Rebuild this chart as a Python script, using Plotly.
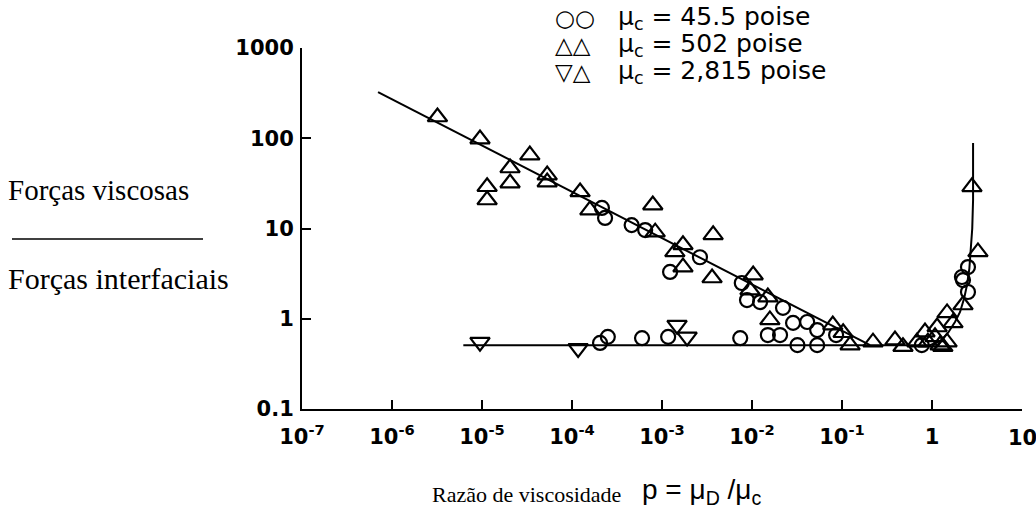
import plotly.graph_objects as go

# ---- data ----
circ_x = [2.15e-4, 2.33e-4, 4.6e-4, 6.5e-4, 1.23e-3, 2.64e-3, 7.7e-3, 8.8e-3, 1.23e-2, 2.21e-2,
          1.5e-2, 2.05e-2, 2.86e-2, 4.1e-2, 5.3e-2, 3.2e-2, 5.3e-2, 7.4e-3, 0.086, 0.77,
          2.51, 2.21, 2.51, 2.15, 2.05e-4, 2.5e-4, 6.0e-4, 1.17e-3]
circ_y = [16.9, 13.1, 10.9, 9.6, 3.3, 4.8, 2.49, 1.61, 1.53, 1.32,
          0.66, 0.66, 0.90, 0.92, 0.75, 0.51, 0.51, 0.61, 0.66, 0.51,
          1.98, 2.68, 3.74, 2.9, 0.54, 0.63, 0.61, 0.63]

tri_x = [3.2e-6, 9.5e-6, 1.14e-5, 1.14e-5, 2.05e-5, 2.05e-5, 3.4e-5, 5.3e-5, 5.3e-5, 1.23e-4,
         1.58e-4, 7.9e-4, 8.4e-4, 1.39e-3, 1.71e-3, 1.71e-3, 3.6e-3, 3.7e-3, 1.03e-2, 9.5e-3,
         1.5e-2, 1.58e-2, 0.079, 0.103, 0.123, 0.221, 0.388, 0.476, 0.68, 0.90,
         1.23, 1.47, 1.14, 1.47, 2.21, 1.71, 2.78, 3.24, 1.08, 1.32, 0.836]
tri_y = [172, 98, 29, 20.7, 46.8, 31.9, 65, 39, 32.7, 25.4,
         16, 18.2, 9.1, 5.5, 6.6, 3.74, 2.83, 8.5, 3.05, 2.08,
         1.74, 0.97, 0.85, 0.70, 0.51, 0.55, 0.58, 0.49, 0.55, 0.55,
         0.51, 0.55, 0.81, 1.16, 1.42, 0.90, 28.9, 5.5, 0.63, 0.49, 0.71]

dtri_x = [9.5e-6, 1.17e-4, 1.47e-3, 1.9e-3]
dtri_y = [0.55, 0.47, 0.85, 0.63]

fit1_x = [7.0e-7, 0.205]
fit1_y = [325, 0.51]

fit2_x = [6.2e-6, 0.95, 1.25, 1.51, 1.8, 2.05, 2.28, 2.45, 2.6, 2.71, 2.8, 2.86, 2.86]
fit2_y = [0.51, 0.51, 0.57, 0.70, 0.92, 1.19, 1.7, 2.37, 3.6, 5.8, 10, 20.7, 88.5]

x_tickvals = [1e-7, 1e-6, 1e-5, 1e-4, 1e-3, 1e-2, 1e-1, 1, 10]
x_ticktext = ["10<sup>-7</sup>", "10<sup>-6</sup>", "10<sup>-5</sup>", "10<sup>-4</sup>",
              "10<sup>-3</sup>", "10<sup>-2</sup>", "10<sup>-1</sup>", "1", "10"]
y_tickvals = [0.1, 1, 10, 100, 1000]
y_ticktext = ["0.1", "1", "10", "100", "1000"]

legend_syms = ["○○", "△△", "▽△"]
legend_txt = ["μ<sub>c</sub> = 45.5 poise", "μ<sub>c</sub> = 502 poise", "μ<sub>c</sub> = 2,815 poise"]

# ---- figure ----
W, H = 1036, 516
L, R, T, B = 302, 14, 48, 107
pw, ph = W - L - R, H - T - B

def px(xpix):
    return (xpix - L) / pw

def py(ypix):
    return (H - B - ypix) / ph

fig = go.Figure()
fig.add_trace(go.Scatter(x=fit1_x, y=fit1_y, mode="lines",
                         line=dict(color="black", width=2), showlegend=False))
fig.add_trace(go.Scatter(x=fit2_x, y=fit2_y, mode="lines",
                         line=dict(color="black", width=2), showlegend=False))
mk = dict(color="black", size=17, line=dict(color="black", width=2.2))
fig.add_trace(go.Scatter(x=circ_x, y=circ_y, mode="markers",
                         marker=dict(symbol="circle-open", **{**mk, "size": 14}), showlegend=False))
fig.add_trace(go.Scatter(x=tri_x, y=tri_y, mode="markers",
                         marker=dict(symbol="triangle-up-open", **mk), showlegend=False))
fig.add_trace(go.Scatter(x=dtri_x, y=dtri_y, mode="markers",
                         marker=dict(symbol="triangle-down-open", **mk), showlegend=False))

xtickfont = dict(family="DejaVu Sans", size=21, color="black", weight="bold")
ytickfont = dict(family="DejaVu Sans", size=21, color="black", weight="bold")
# the last x label sits on the page edge; plotly would drop it, so it is drawn as an annotation
shown_ticktext = x_ticktext[:-1] + [""]
fig.update_xaxes(type="log", range=[-7, 1], tickvals=x_tickvals, ticktext=shown_ticktext,
                 ticks="inside", ticklen=9, tickwidth=2, tickcolor="black",
                 showline=True, linecolor="black", linewidth=2, showgrid=False,
                 zeroline=False, tickfont=xtickfont, ticklabelstandoff=8)
fig.update_yaxes(type="log", range=[-1, 3], tickvals=y_tickvals, ticktext=y_ticktext,
                 ticks="inside", ticklen=9, tickwidth=2, tickcolor="black",
                 showline=True, linecolor="black", linewidth=2, showgrid=False,
                 zeroline=False, tickfont=ytickfont, ticklabelstandoff=2)

ann = []
ann.append(dict(text=x_ticktext[-1], x=1, xref="x", y=py(438), yref="paper",
                xanchor="center", yanchor="middle", showarrow=False, font=xtickfont))
serif = dict(family="Liberation Serif", size=30, color="black")
ann.append(dict(text="Forças viscosas", x=px(6), y=py(190), xref="paper", yref="paper",
                xanchor="left", yanchor="middle", showarrow=False,
                font=dict(family="Liberation Serif", size=29, color="black")))
ann.append(dict(text="Forças interfaciais", x=px(6), y=py(278), xref="paper", yref="paper",
                xanchor="left", yanchor="middle", showarrow=False, font=serif))
ann.append(dict(text="Razão de viscosidade", x=px(430), y=py(494), xref="paper", yref="paper",
                xanchor="left", yanchor="middle", showarrow=False,
                font=dict(family="Liberation Serif", size=22, color="black")))
ann.append(dict(text="p = μ<sub>D</sub> /μ<sub>c</sub>", x=px(640), y=py(491), xref="paper", yref="paper",
                xanchor="left", yanchor="middle", showarrow=False,
                font=dict(family="Liberation Sans", size=28, color="black")))
for i, (s, t) in enumerate(zip(legend_syms, legend_txt)):
    yy = [18, 45, 72][i]
    ann.append(dict(text=s, x=px(553), y=py(yy), xref="paper", yref="paper",
                    xanchor="left", yanchor="middle", showarrow=False,
                    font=dict(family="DejaVu Sans", size=23, color="black")))
    ann.append(dict(text=t, x=px(616), y=py(yy), xref="paper", yref="paper",
                    xanchor="left", yanchor="middle", showarrow=False,
                    font=dict(family="DejaVu Sans", size=25, color="black")))

fig.update_layout(width=W, height=H, margin=dict(l=L, r=R, t=T, b=B, autoexpand=False),
                  plot_bgcolor="white", paper_bgcolor="white", annotations=ann,
                  shapes=[dict(type="line", xref="paper", yref="paper",
                               x0=px(12), x1=px(203), y0=py(239), y1=py(239),
                               line=dict(color="black", width=1.5))])
fig.write_html("out.html")
